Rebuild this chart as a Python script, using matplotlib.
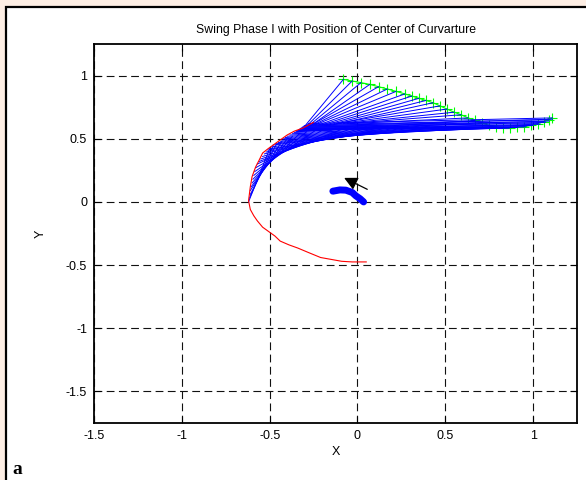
import matplotlib
matplotlib.use('Agg')
import matplotlib.pyplot as plt
from matplotlib.patches import Rectangle

plt.rcParams['font.family'] = ['Liberation Sans', 'DejaVu Sans']
plt.rcParams['axes.unicode_minus'] = False

# green trajectory (with + markers)
green_x = [-0.08, -0.03, 0.02, 0.07, 0.12, 0.17, 0.22, 0.27, 0.31, 0.35, 0.39, 0.43, 0.47,
           0.51, 0.55, 0.59, 0.63, 0.67, 0.71, 0.75, 0.79, 0.83, 0.87, 0.91, 0.95, 0.99,
           1.03, 1.06, 1.09, 1.11]
green_y = [0.97, 0.957, 0.944, 0.93, 0.912, 0.894, 0.875, 0.855, 0.838, 0.82, 0.803, 0.785, 0.76,
           0.735, 0.71, 0.69, 0.665, 0.645, 0.625, 0.605, 0.59, 0.585, 0.585, 0.59, 0.595, 0.605,
           0.62, 0.635, 0.65, 0.665]

# upper fan: upper green points -> top of the curvature arc
fan_a_x0 = green_x[:17]
fan_a_y0 = green_y[:17]
fan_a_x1 = [-0.30, -0.29, -0.28, -0.27, -0.26, -0.25, -0.24, -0.22, -0.20, -0.18, -0.16,
            -0.14, -0.12, -0.10, -0.08, -0.06, -0.04]
fan_a_y1 = [0.60, 0.60, 0.60, 0.60, 0.61, 0.61, 0.61, 0.61, 0.61, 0.61, 0.61,
            0.61, 0.62, 0.62, 0.62, 0.62, 0.62]

# band: right green points -> top of the arc
fan_c_x0 = green_x[17:]
fan_c_y0 = green_y[17:]
fan_c_x1 = [-0.35, -0.345, -0.34, -0.335, -0.33, -0.325, -0.32, -0.315, -0.31, -0.305,
            -0.30, -0.29, -0.28]
fan_c_y1 = [0.555, 0.56, 0.565, 0.57, 0.575, 0.58, 0.585, 0.59, 0.595, 0.60,
            0.605, 0.61, 0.62]

# lower fan: curvature arc -> inside of the arc / band
fan_b_x0 = [-0.62, -0.615, -0.61, -0.61, -0.605, -0.60, -0.595, -0.59, -0.585, -0.58,
            -0.57, -0.56, -0.55, -0.54, -0.53, -0.52, -0.51, -0.50, -0.49, -0.48,
            -0.465, -0.45, -0.44, -0.43, -0.42, -0.41, -0.40, -0.385, -0.37, -0.36,
            -0.345, -0.33, -0.32, -0.31, -0.30]
fan_b_y0 = [0.00, 0.03, 0.06, 0.09, 0.12, 0.15, 0.18, 0.21, 0.24, 0.27,
            0.30, 0.32, 0.34, 0.36, 0.38, 0.395, 0.41, 0.42, 0.435, 0.45,
            0.46, 0.47, 0.48, 0.49, 0.50, 0.51, 0.52, 0.53, 0.54, 0.55,
            0.56, 0.57, 0.58, 0.59, 0.60]
fan_b_x1 = [-0.50, -0.48, -0.46, -0.43, -0.40, -0.37, -0.33, -0.29, -0.24, -0.19,
            -0.13, -0.07, -0.01, 0.05, 0.11, 0.17, 0.23, 0.29, 0.35, 0.41,
            0.47, 0.53, 0.59, 0.65, 0.71, 0.76, 0.81, 0.86, 0.91, 0.96,
            1.00, 1.04, 1.07, 1.09, 1.11]
fan_b_y1 = [0.42, 0.44, 0.46, 0.48, 0.50, 0.52, 0.54, 0.555, 0.565, 0.575,
            0.58, 0.585, 0.59, 0.595, 0.60, 0.60, 0.60, 0.60, 0.60, 0.60,
            0.595, 0.595, 0.59, 0.59, 0.585, 0.585, 0.585, 0.585, 0.59, 0.595,
            0.605, 0.615, 0.63, 0.64, 0.655]

# center of curvature path (red)
red_x = [-0.25, -0.31, -0.36, -0.40, -0.44, -0.48, -0.51, -0.54, -0.56, -0.58, -0.60,
         -0.61, -0.62, -0.61, -0.59, -0.57, -0.54, -0.51, -0.47, -0.44, -0.39, -0.34,
         -0.28, -0.21, -0.15, -0.09, -0.03, 0.05]
red_y = [0.63, 0.585, 0.56, 0.53, 0.49, 0.45, 0.42, 0.387, 0.33, 0.276, 0.20,
         0.12, 0.01, -0.06, -0.11, -0.15, -0.20, -0.23, -0.27, -0.31, -0.34, -0.365,
         -0.40, -0.44, -0.455, -0.47, -0.475, -0.475]

# small blue blob and the black arrow
blob_x = [-0.14, -0.10, -0.066, -0.03, -0.009, 0.015, 0.035]
blob_y = [0.085, 0.095, 0.093, 0.075, 0.048, 0.025, 0.0]
arrow_tail = (0.07, 0.09)
arrow_tip = (-0.09, 0.20)

ticks = [-1.5, -1, -0.5, 0, 0.5, 1]
tick_labels = ['-1.5', '-1', '-0.5', '0', '0.5', '1']

fig = plt.figure(figsize=(5.86, 4.8), dpi=100, facecolor='#fdeee4')
fig.patches.append(Rectangle((6 / 586, -0.1), 1.1, 0.1 + 1 - 7 / 480, transform=fig.transFigure,
                             facecolor='white', edgecolor='black', linewidth=1.6, zorder=-1))

ax = fig.add_axes([94 / 586, 1 - 423 / 480, 483 / 586, 379 / 480])

ax.plot(green_x, green_y, color=(0, 1, 0), lw=0.8, marker='+', ms=7, mew=0.8, zorder=2)
for x0, y0, x1, y1 in zip(fan_a_x0, fan_a_y0, fan_a_x1, fan_a_y1):
    ax.plot([x0, x1], [y0, y1], color='blue', lw=0.7, zorder=3)
for x0, y0, x1, y1 in zip(fan_c_x0, fan_c_y0, fan_c_x1, fan_c_y1):
    ax.plot([x0, x1], [y0, y1], color='blue', lw=0.7, zorder=3)
for x0, y0, x1, y1 in zip(fan_b_x0, fan_b_y0, fan_b_x1, fan_b_y1):
    ax.plot([x0, x1], [y0, y1], color='blue', lw=0.7, zorder=3)
ax.plot(red_x, red_y, color='red', lw=0.8, zorder=4)
ax.plot(blob_x, blob_y, color='blue', lw=5, solid_capstyle='round', zorder=4)
ax.annotate('', xy=arrow_tip, xytext=arrow_tail,
            arrowprops=dict(arrowstyle='-|>', color='black', lw=0.9, mutation_scale=20), zorder=5)

ax.set_xlim(-1.5, 1.25)
ax.set_ylim(-1.75, 1.25)
ax.set_xticks(ticks, tick_labels)
ax.set_yticks(ticks, tick_labels)
ax.tick_params(direction='in', length=5, top=True, right=True, labelsize=9, pad=5)
ax.grid(True, color='#111111', lw=0.8, linestyle=(0, (7, 4)))
ax.set_axisbelow(True)
for s in ax.spines.values():
    s.set_linewidth(1.3)

ax.set_title('Swing Phase I with Position of Center of Curvarture', fontsize=8.8, pad=8)
ax.set_xlabel('X', fontsize=9, labelpad=3)
ax.set_ylabel('Y', fontsize=9, labelpad=14)
fig.text(12 / 586, 1 - 474 / 480, 'a', family='Liberation Serif', fontweight='bold', fontsize=14)

fig.savefig('out.png', dpi=100, facecolor=fig.get_facecolor())
